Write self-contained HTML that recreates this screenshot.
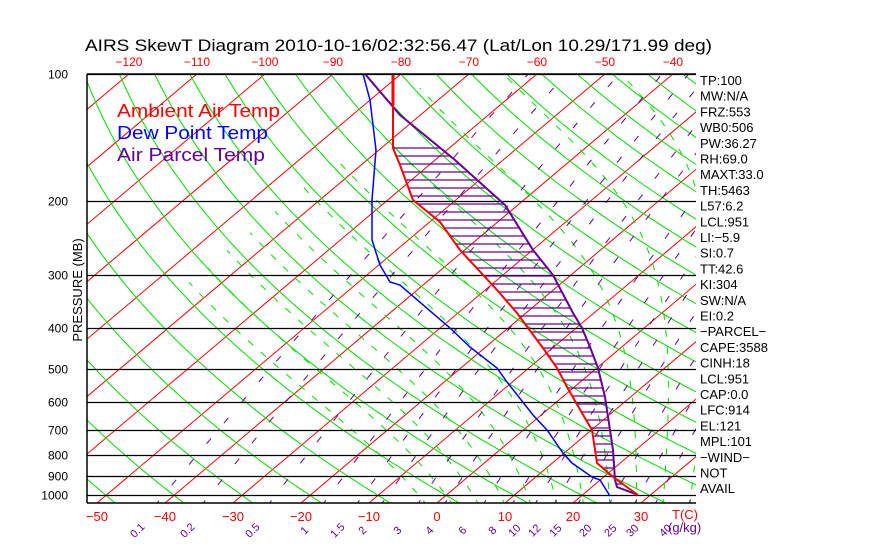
<!DOCTYPE html>
<html><head><meta charset="utf-8"><style>
html,body{margin:0;padding:0;background:#fff;}
svg{display:block;font-family:"Liberation Sans",sans-serif;}
</style></head><body>
<svg id="s" width="870" height="560" viewBox="0 0 870 560" xmlns="http://www.w3.org/2000/svg">
<defs><clipPath id="c"><rect x="87" y="74" width="609" height="429"/></clipPath></defs>
<g id="grid" clip-path="url(#c)"></g>
<g id="prof"></g>
<text x="85" y="51" font-size="17" textLength="627" lengthAdjust="spacingAndGlyphs">AIRS SkewT Diagram 2010-10-16/02:32:56.47 (Lat/Lon 10.29/171.99 deg)</text>
<text x="117" y="117" font-size="18" fill="#f00" textLength="163" lengthAdjust="spacingAndGlyphs">Ambient Air Temp</text>
<text x="117" y="139" font-size="18" fill="#00f" textLength="151" lengthAdjust="spacingAndGlyphs">Dew Point Temp</text>
<text x="117" y="161" font-size="18" fill="#609" textLength="148" lengthAdjust="spacingAndGlyphs">Air Parcel Temp</text>
<text transform="translate(82,290) rotate(-90)" font-size="13" text-anchor="middle">PRESSURE (MB)</text>
<g id="lab"></g>
</svg>
<script>
const NS="http://www.w3.org/2000/svg";
function el(p,t,a,txt){const e=document.createElementNS(NS,t);for(const k in a)e.setAttribute(k,a[k]);if(txt!==undefined)e.textContent=txt;p.appendChild(e);return e;}
const G=document.getElementById('grid'),P=document.getElementById('prof'),L=document.getElementById('lab');
const yP=p=>74+183*Math.log(p/100);
const xT=(T,y)=>437+6.8*T+1.184*(503-y);
const poly=(pts,a,par)=>el(par||G,'polyline',Object.assign({points:pts.map(q=>q[0].toFixed(1)+','+q[1].toFixed(1)).join(' '),fill:'none'},a));
for(let T=-140;T<=50;T+=10){poly([[xT(T,510),510],[xT(T,60),60]],{stroke:'#f00','stroke-width':1});}
for(let th=-60;th<=200;th+=10){const pts=[];for(let p=1060;p>=95;p-=10){const T=(th+273.15)*Math.pow(p/1000,0.286)-273.15;const y=yP(p);pts.push([xT(T,y),y]);}poly(pts,{stroke:'#0d0','stroke-width':1});}
const es=Tc=>6.112*Math.exp(17.67*Tc/(Tc+243.5));
const dT=(T,p)=>{const e=es(T-273.15);const r=0.622*e/(p-e);return (287*T+2.5e6*r)/(1004+2.5e6*2.5e6*r*0.622/(287*T*T));};
for(let tw=-4;tw<=40;tw+=4){
 let TT=tw+273.15;for(let pp=1000;pp<1060;pp+=2){TT+=dT(TT,pp)*Math.log((pp+2)/pp);}
 let T=TT;const pts=[];
 for(let p=1060;p>=100;p-=2){if(T-273.15<-75)break;const y=yP(p);pts.push([xT(T-273.15,y),y]);T+=dT(T,p)*Math.log((p-2)/p);}
 if(pts.length>1)poly(pts,{stroke:'#0d0','stroke-width':1,'stroke-dasharray':'7 10'});}
const W=[0.1,0.2,0.5,1,1.5,2,3,4,6,8,10,12,15,20,25,30,40];
const Tw=(w,p)=>{const e=p*w/1000/(0.622+w/1000);const l=Math.log(e/6.112);return 243.5*l/(17.67-l);};
W.forEach(w=>{const pts=[];for(let p=1060;p>=100;p-=10){const y=yP(p);pts.push([xT(Tw(w,p),y),y]);}poly(pts,{stroke:'#609','stroke-width':1,'stroke-dasharray':'7 20'});});
[100,200,300,400,500,600,700,800,900,1000].forEach(p=>{const y=Math.round(yP(p))+0.5;el(G,'line',{x1:87,x2:696,y1:y,y2:y,stroke:'#000','stroke-width':1.3});el(L,'text',{x:68,y:y+4,'font-size':12,'text-anchor':'end'},p);});
el(L,'line',{x1:87,x2:696,y1:74,y2:74,stroke:'#000','stroke-width':1.5});
el(L,'line',{x1:87,x2:696,y1:503,y2:503,stroke:'#000','stroke-width':1.5});
el(L,'line',{x1:87,x2:87,y1:74,y2:503,stroke:'#000','stroke-width':1.5});
const red=[[393,74],[393,148],[400,165],[413,200],[440,222],[460,250],[497,290],[517,313],[528,328],[543,348],[557,368],[567,387],[582,413],[592,430],[597,463],[613,477],[638,495]];
const pur=[[365,74],[400,115],[455,160],[505,205],[533,250],[553,275],[573,313],[582,328],[590,347],[598,368],[605,397],[610,430],[613,450],[615,480],[617,487],[638,495]];
const blu=[[363,74],[370,100],[376,150],[372,200],[372,240],[380,265],[390,282],[400,285],[450,328],[470,347],[497,368],[507,382],[533,415],[547,430],[563,453],[572,463],[592,477],[600,480],[610,496]];
const ix=(a,y)=>{for(let i=0;i<a.length-1;i++){if(y>=a[i][1]&&y<=a[i+1][1]){const t=(y-a[i][1])/((a[i+1][1]-a[i][1])||1);return a[i][0]+t*(a[i+1][0]-a[i][0]);}}return null;};
for(let y=148;y<=490;y+=8){const a=ix(red,y),b=ix(pur,y);if(a!==null&&b!==null)el(P,'line',{x1:a,x2:b,y1:y,y2:y,stroke:'#609','stroke-width':1.3});}
poly(pur,{stroke:'#609','stroke-width':2},P);
poly(blu,{stroke:'#00f','stroke-width':1.5},P);
poly(red,{stroke:'#f00','stroke-width':2},P);
el(P,'line',{x1:393,x2:393,y1:74,y2:105,stroke:'#f00','stroke-width':3});
for(let T=-120;T<=-40;T+=10)el(L,'text',{x:xT(T,74),y:66,'font-size':12,fill:'#f00','text-anchor':'middle'},T<0?'\u2212'+(-T):T);
for(let T=-50;T<=30;T+=10)el(L,'text',{x:437+6.8*T,y:521,'font-size':13,fill:'#f00','text-anchor':'middle'},T<0?'\u2212'+(-T):T);
el(L,'text',{x:672,y:519,'font-size':13,fill:'#f00'},'T(C)');
el(L,'text',{x:668,y:532,'font-size':13,fill:'#609'},'(g/kg)');
const wx=[140,190,255,307,340,365,400,432,465,495,517,537,558,588,613,635,668];
W.forEach((w,i)=>el(L,'text',{transform:'translate('+wx[i]+',533) rotate(-45)','font-size':11,fill:'#609','text-anchor':'middle'},w));
const R=["TP:100","MW:N/A","FRZ:553","WB0:506","PW:36.27","RH:69.0","MAXT:33.0","TH:5463","L57:6.2","LCL:951","LI:\u22125.9","SI:0.7","TT:42.6","KI:304","SW:N/A","EI:0.2","\u2212PARCEL\u2212","CAPE:3588","CINH:18","LCL:951","CAP:0.0","LFC:914","EL:121","MPL:101","\u2212WIND\u2212","NOT","AVAIL"];
R.forEach((t,i)=>{const y=85+i*15.7;el(L,'text',{x:700,y:y,'font-size':13},t);});
</script>
</body></html>
